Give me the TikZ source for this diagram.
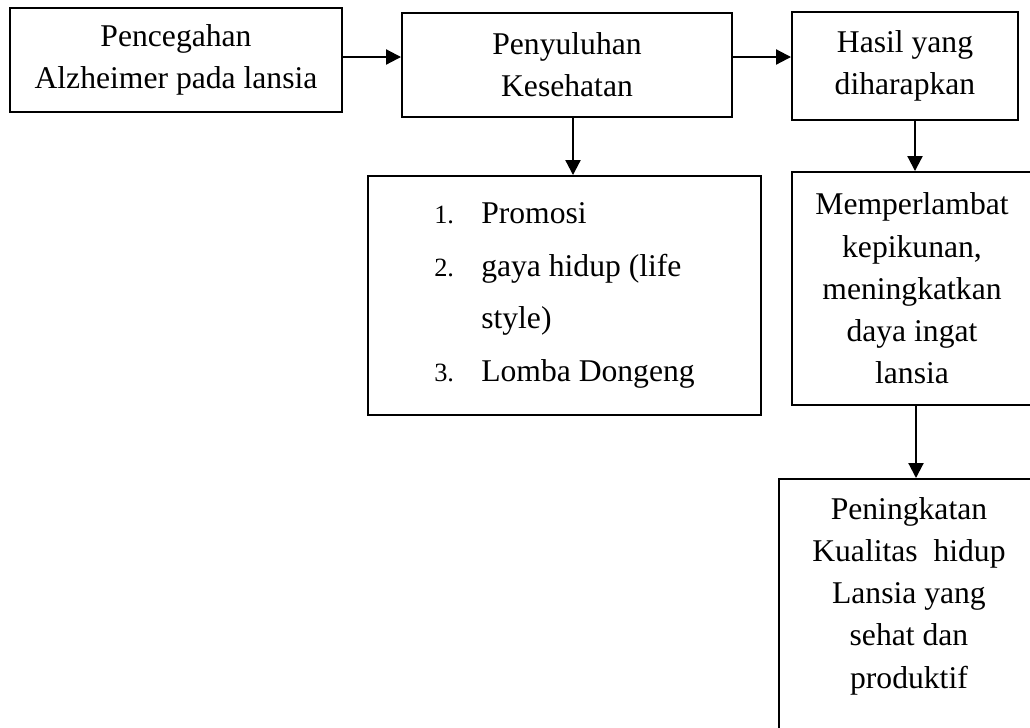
\documentclass[tikz,border=0pt]{standalone}
\usepackage{fontspec}
\setmainfont{Liberation Serif}
\usetikzlibrary{positioning,arrows.meta}
\newcommand{\listno}[1]{\makebox[0.94cm][l]{\fontsize{15}{30}\selectfont #1.}}

\begin{document}
\begin{tikzpicture}[thick,
                    box/.style={draw,line width=1.1pt,align=center,inner sep=0pt,font=\fontsize{18}{24}\selectfont},
                    arr/.style={line width=1.2pt,-{Triangle[length=0.3cm,width=0.3cm]}}
                   ]
   \useasboundingbox (0,0) rectangle (20.6,-14.54);
   \clip (0,0) rectangle (20.6,-14.54);
   \node[box,minimum width=6.64cm,minimum height=2.08cm] (b1) at (3.52,-1.20) {Pencegahan\\Alzheimer pada lansia};
   \node[box,minimum width=6.60cm,minimum height=2.08cm] (b2) at (11.34,-1.30) {Penyuluhan\\Kesehatan};
   \node[box,minimum width=4.52cm,minimum height=2.16cm] (b3) at (18.10,-1.32) {Hasil yang\\diharapkan};
   \node[box,align=left,font=\fontsize{18}{30}\selectfont,
         minimum width=7.86cm,minimum height=4.78cm] (b4) at (11.29,-5.91)
        {\listno{1}Promosi\\
         \listno{2}gaya hidup (life\\
         \hspace*{0.94cm}style)\\
         \listno{3}Lomba Dongeng};
   \node[box,minimum width=4.8cm,minimum height=4.66cm] (b5) at (18.24,-5.77)
        {Memperlambat\\kepikunan,\\meningkatkan\\daya ingat\\lansia};
   % box runs off the page at the bottom, text sits at its top
   \node[box,anchor=north west] (b6) at (15.56,-9.56)
        {\parbox[t][5.64cm][t]{5.2cm}{\centering\vspace*{0.37cm}%
         Peningkatan\\Kualitas~ hidup\\Lansia yang\\sehat dan\\produktif}};
   \path[arr]
     ([yshift=0.06cm]b1.east) edge ([yshift=0.06cm]b1.east -| b2.west)
     ([yshift=0.16cm]b2.east) edge ([yshift=0.16cm]b2.east -| b3.west)
     ([xshift=0.12cm]b2.south) edge ([xshift=0.12cm]b2.south |- b4.north)
     ([xshift=0.2cm]b3.south) edge ([xshift=0.2cm]b3.south |- b5.north)
     ([xshift=0.08cm]b5.south) edge ([xshift=0.08cm]b5.south |- b6.north);
\end{tikzpicture}
\end{document}
